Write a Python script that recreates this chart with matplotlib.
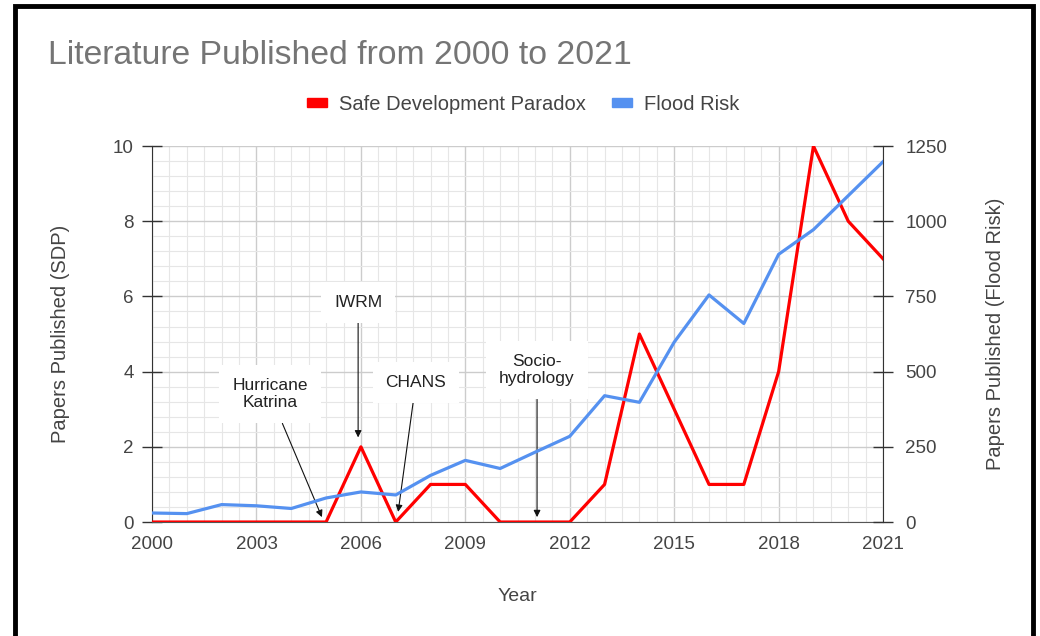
import numpy as np
import matplotlib.pyplot as plt
from matplotlib.ticker import MultipleLocator, FixedLocator
from matplotlib.patches import Rectangle, Patch

plt.rcParams['font.family'] = ['Liberation Sans', 'DejaVu Sans']

years = list(range(2000, 2022))
sdp = [0, 0, 0, 0, 0, 0, 2, 0, 1, 1, 0, 0, 0, 1, 5, 3, 1, 1, 4, 10, 8, 7]
flood_risk = [30, 28, 58, 54, 45, 80, 100, 90, 155, 205, 178, 232, 285,
              420, 398, 598, 755, 660, 890, 972, 1085, 1198]
year_ticks = list(range(2000, 2022, 3))

# (label, text position, arrow tip) in SDP-axis data coords
notes = [
    ("Hurricane\nKatrina", (2003.39, 3.40), (2004.88, 0.13)),
    ("IWRM", (2005.92, 5.85), (2005.92, 2.25)),
    ("CHANS", (2007.58, 3.72), (2007.07, 0.27)),
    ("Socio-\nhydrology", (2011.06, 4.04), (2011.06, 0.13)),
]

red = '#ff0000'
blue = '#5591f0'
text_col = '#444444'

fig = plt.figure(figsize=(10.4, 6.36), dpi=100)
ax = fig.add_axes([0.1462, 0.1792, 0.7029, 0.5912])
ax2 = ax.twinx()

ax.plot(years, sdp, color=red, lw=2.3, zorder=4)
ax2.plot(years, flood_risk, color=blue, lw=2.3, zorder=3)

ax.set_xlim(2000, 2021)
ax.set_ylim(0, 10)
ax2.set_ylim(0, 1250)
ax.xaxis.set_major_locator(FixedLocator(year_ticks))
ax.xaxis.set_minor_locator(MultipleLocator(0.5))
ax.yaxis.set_major_locator(MultipleLocator(2))
ax.yaxis.set_minor_locator(MultipleLocator(0.4))
ax2.yaxis.set_major_locator(MultipleLocator(250))

ax.grid(which='major', color='#cccccc', lw=1.0, zorder=0)
ax.grid(which='minor', color='#e6e6e6', lw=0.8, zorder=0)
ax.set_axisbelow(True)

for a in (ax, ax2):
    for s in a.spines.values():
        s.set_visible(False)
ax.spines['left'].set_visible(True)
ax.spines['left'].set_color('#333333')
ax.spines['bottom'].set_visible(True)
ax.spines['bottom'].set_color('#555555')
ax2.spines['right'].set_visible(True)
ax2.spines['right'].set_color('#333333')

ax.tick_params(axis='y', which='major', direction='inout', length=14, width=1,
               color='#333333', labelsize=13.5, labelcolor=text_col, pad=6)
ax.tick_params(axis='y', which='minor', length=0)
ax.tick_params(axis='x', which='both', length=0, labelsize=13.5,
               labelcolor=text_col, pad=10)
ax2.tick_params(axis='y', which='major', direction='inout', length=14, width=1,
                color='#333333', labelsize=13.5, labelcolor=text_col, pad=9)

ax.set_xlabel('Year', fontsize=14, color=text_col, labelpad=25)
ax.set_ylabel('Papers Published (SDP)', fontsize=14.5, color=text_col, labelpad=31)
ax2.set_ylabel('Papers Published (Flood Risk)', fontsize=14.5, color=text_col, labelpad=28)

for label, txt, tip in notes:
    ax.annotate(label, xy=tip, xytext=txt, ha='center', va='center',
                fontsize=12.5, color='#222222', zorder=6,
                bbox=dict(boxstyle='square,pad=0.75', fc='white', ec='none'),
                arrowprops=dict(arrowstyle='-|>', color='#111111', lw=0.8,
                                mutation_scale=10, shrinkA=0, shrinkB=0))

fig.text(0.046, 0.913, 'Literature Published from 2000 to 2021', fontsize=24.3,
         color='#757575', va='center', ha='left')

handles = [Patch(color=red), Patch(color=blue)]
fig.legend(handles, ['Safe Development Paradox', 'Flood Risk'], loc='center',
           bbox_to_anchor=(0.503, 0.836), ncol=2, frameon=False, fontsize=14.5,
           handlelength=1.0, handleheight=0.3, handletextpad=0.6,
           columnspacing=1.3, labelcolor=text_col)

# outer frame
fig.patches.append(Rectangle((0.0145, -0.01), 0.9785, 1.0, transform=fig.transFigure,
                             fill=False, ec='black', lw=3.5))

fig.savefig('out.png', dpi=100, facecolor='white')
